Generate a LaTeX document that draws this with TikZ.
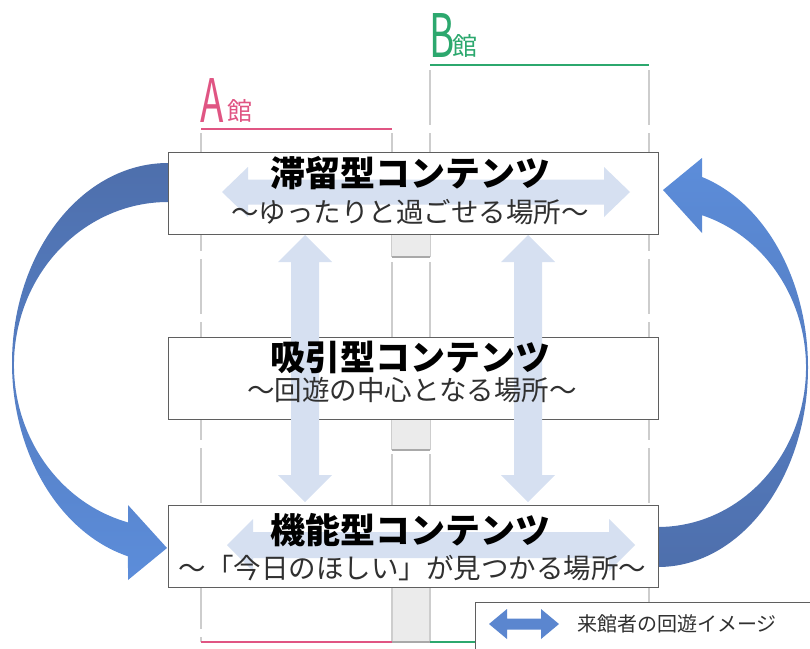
\documentclass[tikz,border=0pt]{standalone}
\usepackage{fontspec}
\newfontfamily\jp{Noto Sans CJK JP}
\definecolor{boxline}{HTML}{5F5F5F}
\definecolor{softblue}{HTML}{D6E0F1}
\definecolor{bigdark}{HTML}{4E6FAC}
\definecolor{biglight}{HTML}{5C8DDA}
\definecolor{legendblue}{HTML}{5B86CF}
\definecolor{pinkA}{HTML}{E05583}
\definecolor{greenB}{HTML}{2CA86E}
\definecolor{gridgray}{HTML}{CDCDCD}
\definecolor{stripfill}{HTML}{EBEBEB}
\definecolor{stripline}{HTML}{A9A9A9}
\definecolor{subtext}{HTML}{303030}
\begin{document}
\begin{tikzpicture}[x=1pt,y=-1pt,
  contentbox/.style={draw=boxline, line width=1pt, fill=white, minimum width=490pt, minimum height=82pt, inner sep=0pt},
  titletext/.style={font=\jp\bfseries\fontsize{35}{40}\selectfont, inner sep=0pt, text=black},
  subtitletext/.style={font=\jp\fontsize{27.5}{32}\selectfont, inner sep=0pt, text=subtext},
  gridline/.style={draw=gridgray, line width=1.5pt, dash pattern=on 55pt off 8pt},
  stripedge/.style={draw=gridgray, line width=1.5pt},
  softarrow/.style={fill=softblue},
  bldlabel/.style={font=\jp\fontsize{60}{60}\selectfont, xscale=0.64, anchor=base west, inner sep=0pt},
  bldkan/.style={font=\jp\fontsize{25}{25}\selectfont, anchor=base west, inner sep=0pt}]
\useasboundingbox (0,0) rectangle (810,648);

% building labels
\node[bldlabel, text=pinkA] (labelA) at (200,122) {A};
\node[bldkan, text=pinkA] (kanA) at (227,120) {館};
\node[bldlabel, text=greenB] (labelB) at (429,57) {B};
\node[bldkan, text=greenB] (kanB) at (452,55) {館};
\draw[pinkA, line width=2pt] (201,129) -- (392,129);
\draw[greenB, line width=2pt] (430,65) -- (649,65);

% grid lines
\draw[gridline] (201,133) -- (201,642);
\draw[gridline] (649,70) -- (649,642);
\draw[gridline] (430,70) -- (430,133);
\draw[stripedge] (392,133) -- (392,257) (430,133) -- (430,257);
\draw[stripedge] (392,262) -- (392,450) (430,262) -- (430,450);
\draw[stripedge] (392,454) -- (392,642) (430,454) -- (430,642);

% bridge strips
\fill[stripfill] (392,234) rectangle (430,257);
\draw[stripline, line width=2pt] (392,257) -- (430,257);
\fill[stripfill] (392,419) rectangle (430,450);
\draw[stripline, line width=2pt] (392,450) -- (430,450);
\fill[stripfill] (392,588) rectangle (430,641);
\draw[stripedge] (392,588) -- (392,642) (430,588) -- (430,642);

% bottom floor line
\draw[pinkA, line width=2pt] (201,642) -- (392,642);
\draw[stripline, line width=2pt] (392,642) -- (430,642);
\draw[greenB, line width=2pt] (430,642) -- (649,642);

% big curved arrows
\shade[top color=bigdark, bottom color=biglight]
  (168,163) arc[start angle=270, end angle=104.86, x radius=156, y radius=200]
  -- (128,580) -- (167,548) -- (128,505) -- (128,522.4)
  arc[start angle=105.05, end angle=270, x radius=154, y radius=163] -- cycle;
\shade[top color=biglight, bottom color=bigdark]
  (658,567) arc[start angle=90, end angle=-72.94, x radius=150, y radius=199.4]
  -- (702,158) -- (663,190) -- (702,233) -- (702,215.2)
  arc[start angle=-72.7, end angle=90, x radius=148, y radius=159.5] -- cycle;

% content boxes
\node[contentbox] (stay) at (413,193) {};
\node[contentbox] (attract) at (413,378) {};
\node[contentbox] (func) at (413,546) {};

% light circulation arrows
\fill[softarrow] (222,192) -- (248,167) -- (248,179.5) -- (604,179.5) -- (604,167) -- (630,192)
  -- (604,217) -- (604,204.5) -- (248,204.5) -- (248,217) -- cycle;
\fill[softarrow] (227,545) -- (253,519) -- (253,532) -- (609,532) -- (609,519) -- (635,545)
  -- (609,571) -- (609,558) -- (253,558) -- (253,571) -- cycle;
\fill[softarrow] (305,235) -- (332,262) -- (319,262) -- (319,475) -- (332,475) -- (305,502)
  -- (278,475) -- (291,475) -- (291,262) -- (278,262) -- cycle;
\fill[softarrow] (528,235) -- (555,262) -- (542,262) -- (542,475) -- (555,475) -- (528,502)
  -- (501,475) -- (514,475) -- (514,262) -- (501,262) -- cycle;

% texts
\node[titletext] (stayT) at (410,173) {滞留型コンテンツ};
\node[subtitletext] (stayS) at (410,212) {〜ゆったりと過ごせる場所〜};
\node[titletext] (attrT) at (410,357) {吸引型コンテンツ};
\node[subtitletext] (attrS) at (412,390) {〜回遊の中心となる場所〜};
\node[titletext] (funcT) at (410,530) {機能型コンテンツ};
\node[subtitletext] (funcS) at (412.5,568) {〜「今日のほしい」が見つかる場所〜};

% legend
\node[draw=boxline, fill=white, line width=1pt, minimum width=340pt, minimum height=52pt,
  anchor=north west, inner sep=0pt] (legend) at (475,602) {};
\fill[legendblue] (489,624) -- (507,609) -- (507,618.5) -- (541,618.5) -- (541,609) -- (559,624)
  -- (541,639) -- (541,629.5) -- (507,629.5) -- (507,639) -- cycle;
\node[font=\jp\fontsize{20}{24}\selectfont, text=subtext, anchor=west, inner sep=0pt] (legendT)
  at (577,624) {来館者の回遊イメージ};
\end{tikzpicture}
\end{document}
